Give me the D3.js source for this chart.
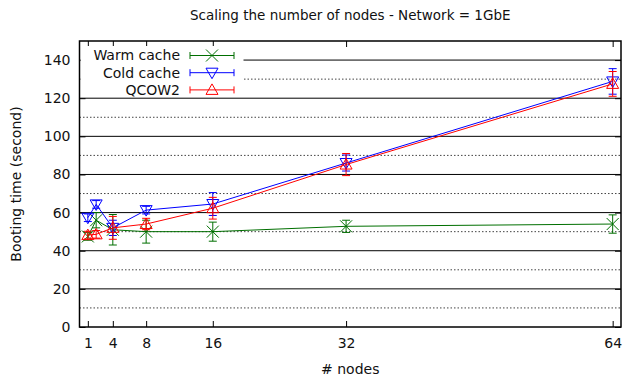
<!DOCTYPE html>
<html>
<head>
<meta charset="utf-8">
<script src="https://cdn.jsdelivr.net/npm/d3@7"></script>
<style>
  html, body { margin: 0; padding: 0; background: #fff; }
  svg { display: block; font-family: "DejaVu Sans", sans-serif; }
</style>
</head>
<body>
<svg id="chart" width="626" height="377"></svg>
<script>
// Node counts and booting times (seconds) with error margins
const nodes = [1, 2, 4, 8, 16, 32, 64];
const xTickValues = [1, 4, 8, 16, 32, 64];
const yTickValues = [0, 20, 40, 60, 80, 100, 120, 140];
const yMinorValues = [10, 30, 50, 70, 90, 110, 130];

const warmCache = [47.5, 56, 51, 50, 50, 52.8, 54];
const warmCacheErr = [2, 4, 8, 6, 5, 3.2, 4.8];
const coldCache = [57.3, 64.3, 52, 61.3, 64.5, 86, 128.8];
const coldCacheErr = [2, 2, 4, 2, 6, 4.2, 6.7];
const qcow2 = [48.2, 48.6, 52, 54, 62.3, 85.2, 127.5];
const qcow2Err = [2, 2, 6, 3, 5.7, 5.8, 6.5];

const seriesNames = ["Warm cache", "Cold cache", "QCOW2"];
const seriesColors = ["#006f00", "#0000ff", "#ff0000"];
const seriesMarkers = ["cross", "triDown", "triUp"];
const seriesValues = [warmCache, coldCache, qcow2];
const seriesErrors = [warmCacheErr, coldCacheErr, qcow2Err];

const svg = d3.select("#chart");
const pLeft = 79.5, pRight = 621, pTop = 41, pBottom = 327;

const x = d3.scaleLinear().domain([0, 65]).range([pLeft, pRight]);
const y = d3.scaleLinear().domain([0, 150]).range([pBottom, pTop]);

// Grid: solid at major ticks, dotted at minor ticks
const grid = svg.append("g");
grid.selectAll("line.major").data(yTickValues.filter(v => v > 0)).join("line")
  .attr("x1", pLeft).attr("x2", pRight)
  .attr("y1", d => y(d)).attr("y2", d => y(d))
  .attr("stroke", "#000").attr("stroke-width", 1);
grid.selectAll("line.minor").data(yMinorValues).join("line")
  .attr("x1", pLeft).attr("x2", pRight)
  .attr("y1", d => y(d)).attr("y2", d => y(d))
  .attr("stroke", "#444").attr("stroke-width", 1)
  .attr("stroke-dasharray", "1.5,2");

// Axes with inward ticks, mirrored on the opposite sides
const fontSize = 14;
svg.append("g").attr("transform", `translate(${pLeft},0)`)
  .call(d3.axisLeft(y).tickValues(yTickValues).tickSize(-6).tickPadding(9));
svg.append("g").attr("transform", `translate(0,${pBottom})`)
  .call(d3.axisBottom(x).tickValues(xTickValues).tickSize(-6).tickPadding(11));
svg.append("g").attr("transform", `translate(${pRight},0)`)
  .call(d3.axisRight(y).tickValues(yTickValues).tickSize(-6).tickFormat(""));
svg.append("g").attr("transform", `translate(0,${pTop})`)
  .call(d3.axisTop(x).tickValues(xTickValues).tickSize(-6).tickFormat(""));
svg.selectAll(".domain").remove();
svg.selectAll(".tick line").attr("stroke", "#000").attr("stroke-width", 1);
svg.selectAll(".tick text").attr("font-size", fontSize)
  .attr("font-family", "DejaVu Sans, sans-serif").attr("fill", "#111");

// Series: lines, error bars and markers
const capHalf = 4;
function markerPath(type, cx, cy) {
  const s = 6;
  if (type === "cross") {
    return `M${cx - s},${cy - s}L${cx + s},${cy + s}M${cx - s},${cy + s}L${cx + s},${cy - s}`;
  }
  if (type === "triDown") {
    return `M${cx - s},${cy - 4.5}L${cx + s},${cy - 4.5}L${cx},${cy + 6}Z`;
  }
  return `M${cx - s},${cy + 4.5}L${cx + s},${cy + 4.5}L${cx},${cy - 6}Z`;
}

const plot = svg.append("g");
seriesValues.forEach((vals, si) => {
  const color = seriesColors[si];
  const errs = seriesErrors[si];
  const pts = nodes.map((n, i) => ({ n, v: vals[i], e: errs[i] }));
  const g = plot.append("g");
  g.append("path").datum(pts)
    .attr("d", d3.line().x(d => x(d.n)).y(d => y(d.v)))
    .attr("fill", "none").attr("stroke", color).attr("stroke-width", 1);
  const eb = g.selectAll("g.err").data(pts).join("g");
  eb.append("line")
    .attr("x1", d => x(d.n)).attr("x2", d => x(d.n))
    .attr("y1", d => y(d.v - d.e)).attr("y2", d => y(d.v + d.e))
    .attr("stroke", color).attr("stroke-width", 1);
  eb.append("line")
    .attr("x1", d => x(d.n) - capHalf).attr("x2", d => x(d.n) + capHalf)
    .attr("y1", d => y(d.v + d.e)).attr("y2", d => y(d.v + d.e))
    .attr("stroke", color).attr("stroke-width", 1);
  eb.append("line")
    .attr("x1", d => x(d.n) - capHalf).attr("x2", d => x(d.n) + capHalf)
    .attr("y1", d => y(d.v - d.e)).attr("y2", d => y(d.v - d.e))
    .attr("stroke", color).attr("stroke-width", 1);
  g.selectAll("path.mk").data(pts).join("path")
    .attr("d", d => markerPath(seriesMarkers[si], x(d.n), y(d.v)))
    .attr("fill", "none").attr("stroke", color).attr("stroke-width", 1);
});

// Legend with white background
const legend = svg.append("g");
legend.append("rect").attr("x", pLeft + 1).attr("y", 46).attr("width", 163).attr("height", 50)
  .attr("fill", "#fff");
seriesNames.forEach((name, i) => {
  const ly = 55.5 + i * 17.2;
  const color = seriesColors[i];
  legend.append("text").attr("x", 180).attr("y", ly).attr("dy", "0.35em")
    .attr("text-anchor", "end").attr("font-size", fontSize).attr("fill", "#111").text(name);
  legend.append("line").attr("x1", 190).attr("x2", 234).attr("y1", ly).attr("y2", ly)
    .attr("stroke", color);
  legend.append("line").attr("x1", 190).attr("x2", 190).attr("y1", ly - 3.5).attr("y2", ly + 3.5)
    .attr("stroke", color);
  legend.append("line").attr("x1", 234).attr("x2", 234).attr("y1", ly - 3.5).attr("y2", ly + 3.5)
    .attr("stroke", color);
  legend.append("path").attr("d", markerPath(seriesMarkers[i], 212, ly))
    .attr("fill", "none").attr("stroke", color);
});

// Plot border
svg.append("rect").attr("x", pLeft).attr("y", pTop)
  .attr("width", pRight - pLeft).attr("height", pBottom - pTop)
  .attr("fill", "none").attr("stroke", "#000").attr("stroke-width", 1.5);

// Title and axis labels
svg.append("text").attr("x", (pLeft + pRight) / 2).attr("y", 20)
  .attr("text-anchor", "middle").attr("font-size", fontSize - 0.5).attr("fill", "#111")
  .text("Scaling the number of nodes - Network = 1GbE");
svg.append("text").attr("x", (pLeft + pRight) / 2).attr("y", 374)
  .attr("text-anchor", "middle").attr("font-size", fontSize).attr("fill", "#111")
  .text("# nodes");
svg.append("text").attr("transform", `translate(21,${(pTop + pBottom) / 2}) rotate(-90)`)
  .attr("text-anchor", "middle").attr("font-size", fontSize).attr("fill", "#111")
  .text("Booting time (second)");
</script>
</body>
</html>
